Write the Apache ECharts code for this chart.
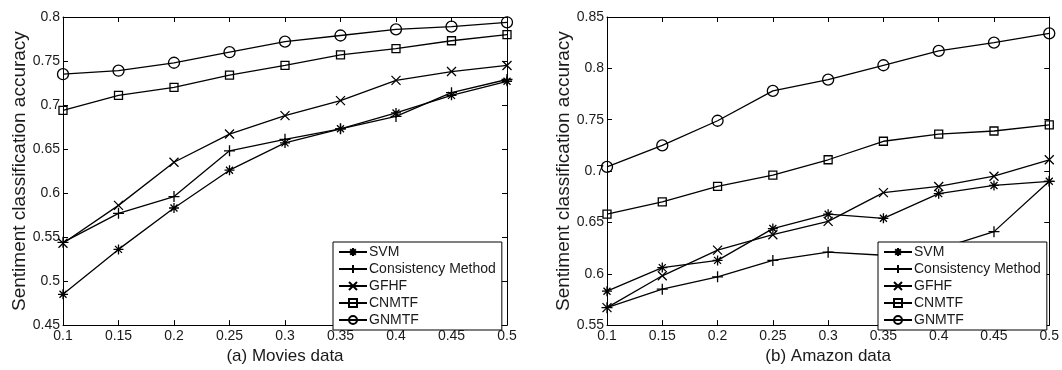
<!DOCTYPE html>
<html><head><meta charset="utf-8">
<script src="https://cdn.jsdelivr.net/npm/echarts@6/dist/echarts.min.js"></script>
<style>html,body{margin:0;padding:0;background:#fff}#c{width:1062px;height:370px}</style>
</head><body><div id="c"></div>
<script>
var xLabels = ['0.1','0.15','0.2','0.25','0.3','0.35','0.4','0.45','0.5'];
var seriesNames = ['SVM','Consistency Method','GFHF','CNMTF','GNMTF'];

// (a) Movies data
var moviesSVM   = [0.485,0.536,0.583,0.626,0.657,0.673,0.691,0.711,0.727];
var moviesCM    = [0.544,0.577,0.596,0.648,0.661,0.673,0.687,0.714,0.729];
var moviesGFHF  = [0.543,0.586,0.635,0.667,0.688,0.705,0.728,0.738,0.745];
var moviesCNMTF = [0.694,0.711,0.720,0.734,0.745,0.757,0.764,0.773,0.780];
var moviesGNMTF = [0.735,0.739,0.748,0.760,0.772,0.779,0.786,0.789,0.794];

// (b) Amazon data
var amazonSVM   = [0.583,0.606,0.613,0.644,0.658,0.654,0.678,0.686,0.690];
var amazonCM    = [0.567,0.585,0.597,0.613,0.621,0.618,0.624,0.641,0.690];
var amazonGFHF  = [0.567,0.598,0.623,0.638,0.651,0.679,0.685,0.695,0.711];
var amazonCNMTF = [0.658,0.670,0.685,0.696,0.711,0.729,0.736,0.739,0.745];
var amazonGNMTF = [0.704,0.725,0.749,0.778,0.789,0.803,0.817,0.825,0.834];

var chartTitles = ['(a) Movies data','(b) Amazon data'];
var yTitle = 'Sentiment classification accuracy';

var symbols = [
  'path://M0,5L10,5M5,0L5,10M1.5,1.5L8.5,8.5M1.5,8.5L8.5,1.5',
  'path://M0,5L10,5M5,0L5,10',
  'path://M1,1L9,9M1,9L9,1',
  'rect',
  'circle'
];
var symSizes = [10,11,9,8,11];

var chart = echarts.init(document.getElementById('c'));
var txt = '#1a1a1a';
var fontFam = '"Liberation Sans", Arial, sans-serif';

function xAx(gi, pos, show){
  return {type:'category', gridIndex:gi, data:xLabels, boundaryGap:false, position:pos,
    axisLine:{show:true, lineStyle:{color:'#000', width:1}},
    axisTick:{show:true, inside:true, length:5, alignWithLabel:true, lineStyle:{color:'#000'}},
    axisLabel:{show:show, color:txt, fontSize:14, fontFamily:fontFam, margin:4},
    splitLine:{show:false},
    name: show ? chartTitles[gi] : '', nameLocation:'middle', nameGap:19,
    nameTextStyle:{color:txt, fontSize:17, fontFamily:fontFam}};
}
function yAx(gi, pos, show, mn, mx){
  return {type:'value', gridIndex:gi, min:mn, max:mx, interval:0.05, position:pos,
    axisLine:{show:true, onZero:false, lineStyle:{color:'#000', width:1}},
    axisTick:{show:true, inside:true, length:5, lineStyle:{color:'#000'}},
    axisLabel:{show:show, color:txt, fontSize:14, fontFamily:fontFam, margin:3},
    splitLine:{show:false},
    name: show ? yTitle : '', nameLocation:'middle', nameGap:34,
    nameTextStyle:{color:txt, fontSize:19, fontFamily:fontFam}};
}

var data = [
  [moviesSVM, moviesCM, moviesGFHF, moviesCNMTF, moviesGNMTF],
  [amazonSVM, amazonCM, amazonGFHF, amazonCNMTF, amazonGNMTF]
];
var series = [];
for (var g=0; g<2; g++){
  for (var i=0; i<5; i++){
    series.push({
      type:'line', name:seriesNames[i], xAxisIndex:g*2, yAxisIndex:g*2,
      data:data[g][i], symbol:symbols[i], symbolSize:symSizes[i], showAllSymbol:true,
      lineStyle:{color:'#000', width:1.3},
      itemStyle:{color:'none', borderColor:'#000', borderWidth:1.3},
      emphasis:{disabled:true}, animation:false, z:3
    });
  }
}
function legend(left){
  return {data:seriesNames, orient:'vertical', left:left, top:242, width:170,
    backgroundColor:'#fff', borderColor:'#000', borderWidth:1, borderRadius:0,
    padding:[3,6,3,5], itemGap:3, itemWidth:28, itemHeight:10,
    textStyle:{color:txt, fontSize:14, fontFamily:fontFam, padding:[0,0,0,-3]},
    selectedMode:false, z:10};
}

chart.setOption({
  animation:false,
  backgroundColor:'#fff',
  grid:[
    {left:63, right:555, top:17, bottom:37},
    {left:607, right:10, top:17, bottom:37}
  ],
  xAxis:[xAx(0,'bottom',true), xAx(0,'top',false), xAx(1,'bottom',true), xAx(1,'top',false)],
  yAxis:[yAx(0,'left',true,0.45,0.8), yAx(0,'right',false,0.45,0.8), yAx(1,'left',true,0.55,0.85), yAx(1,'right',false,0.55,0.85)],
  legend:[legend(333), legend(878)],
  series:series
});
</script>
</body></html>
